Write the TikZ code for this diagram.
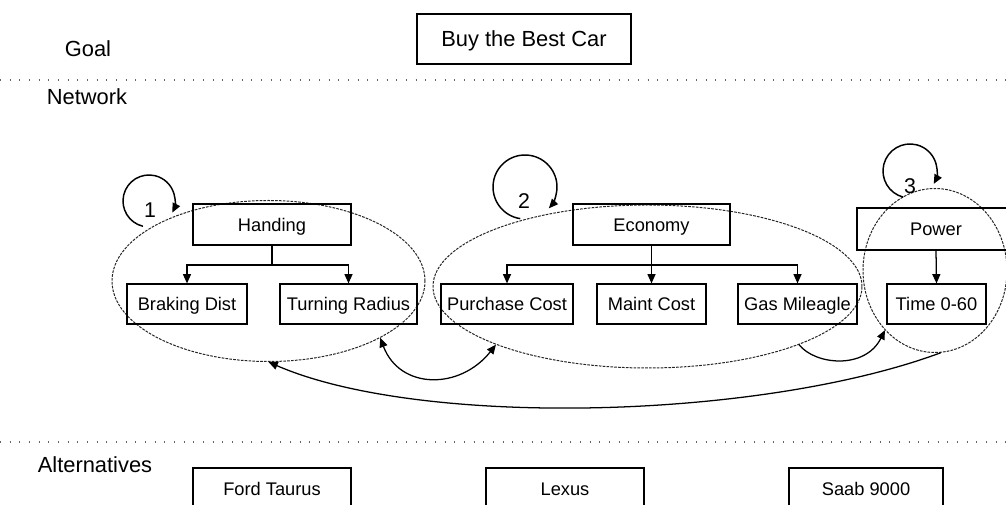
\documentclass[tikz,border=0pt]{standalone}
\usepackage{fontspec}
\setmainfont{Liberation Sans}
\usetikzlibrary{arrows.meta,shapes.geometric}
\begin{document}
\begin{tikzpicture}[x=0.75pt,y=-0.75pt,
 box/.style={draw,line width=0.85pt,inner sep=0pt,text height=9.8pt,text depth=0pt,font=\fontsize{13.7}{16}\selectfont},
 lbl/.style={inner sep=0pt,font=\fontsize{16.4}{19}\selectfont},
 num/.style={inner sep=0pt,font=\fontsize{16}{19}\selectfont},
 grp/.style={draw=black!85,ellipse,dash pattern=on 2pt off 0.9pt,line width=0.75pt,inner sep=0pt},
 arr/.style={line width=0.95pt,-{Triangle[length=7pt,width=6pt]}},
 darr/.style={line width=0.95pt,{Triangle[length=7pt,width=6pt]}-{Triangle[length=7pt,width=6pt]}},
 sep/.style={draw=black!60,line width=0.8pt,dash pattern=on 0.75pt off 6.5pt},
]
\useasboundingbox (0,0) rectangle (1006,505);

% section labels and separators
\node[lbl] (goal) at (88,49) {Goal};
\node[lbl] (network) at (87,97) {Network};
\node[lbl] (alts) at (95,465) {Alternatives};
\draw[sep] (0,80) -- (1006,80);
\draw[sep] (0,442) -- (1006,442);

% goal
\node[box,minimum width=160.5pt,minimum height=37.5pt,text height=11.7pt,font=\fontsize{16.4}{19}\selectfont] (best) at (524,39) {Buy the Best Car};

% clusters
\node[grp,minimum width=234.75pt,minimum height=120.75pt] (e1) at (268.5,281) {};
\node[grp,minimum width=321.75pt,minimum height=122.25pt] (e2) at (647.5,286.5) {};
\node[grp,minimum width=108pt,minimum height=123pt] (e3) at (935,270.5) {};

% handling
\node[box,minimum width=118.5pt,minimum height=30.75pt] (handing) at (272,224.5) {Handing};
\node[box,minimum width=90pt,minimum height=30pt] (braking) at (187,304) {Braking Dist};
\node[box,minimum width=102.75pt,minimum height=30pt] (turning) at (348.5,304) {Turning Radius};
\draw[line width=0.95pt] (handing.south) -- (272,265) coordinate (hbar);
\draw[arr] (hbar) -| (braking.north);
\draw[arr] (hbar) -| (turning.north);

% economy
\node[box,minimum width=117.75pt,minimum height=30.75pt] (economy) at (651.5,224.5) {Economy};
\node[box,minimum width=99pt,minimum height=30pt] (purchase) at (507,304) {Purchase Cost};
\node[box,minimum width=81.75pt,minimum height=30pt] (maint) at (651.5,304) {Maint Cost};
\node[box,minimum width=89.25pt,minimum height=30pt] (gas) at (797.5,304) {Gas Mileagle};
\draw[arr] (economy.south) -- (maint.north);
\coordinate (ebar) at (651.5,265);
\draw[arr] (ebar) -| (purchase.north);
\draw[arr] (ebar) -| (gas.north);

% power
\node[box,minimum width=118.5pt,minimum height=31.5pt] (power) at (936,229) {Power};
\node[box,minimum width=74.25pt,minimum height=30pt] (time) at (936.5,304) {Time 0-60};
\draw[arr] (power.south) -- (time.north);

% self loops
\coordinate (c1) at (149,201);
\coordinate (c2) at (525,187);
\coordinate (c3) at (910,171);
\draw[arr,line width=1.1pt] (c1) ++(103.5:26) arc[start angle=103.5,end angle=386.6,radius=26];
\draw[arr,line width=1.1pt] (c2) ++(98.6:32) arc[start angle=98.6,end angle=401.8,radius=32];
\draw[arr,line width=1.1pt] (c3) ++(104.5:27) arc[start angle=104.5,end angle=388.6,radius=27];
\node[num] (n1) at (150,210) {1};
\node[num] (n2) at (524,201) {2};
\node[num] (n3) at (910,186) {3};

% cluster connections
\draw[darr] (e1.-27) .. controls (400,390) and (460,390) .. (e2.201);
\draw[arr] (e2.-21) .. controls (815,365) and (865,370) .. (e3.-130);
\draw[arr] (e3.-86) .. controls (760,420) and (420,428) .. (e1.-90);

% alternatives
\node[box,minimum width=118.5pt,minimum height=30.75pt] (ford) at (272,488.5) {Ford Taurus};
\node[box,minimum width=118.5pt,minimum height=30.75pt] (lexus) at (565,488.5) {Lexus};
\node[box,minimum width=115.5pt,minimum height=30.75pt] (saab) at (866,488.5) {Saab 9000};
\end{tikzpicture}
\end{document}
